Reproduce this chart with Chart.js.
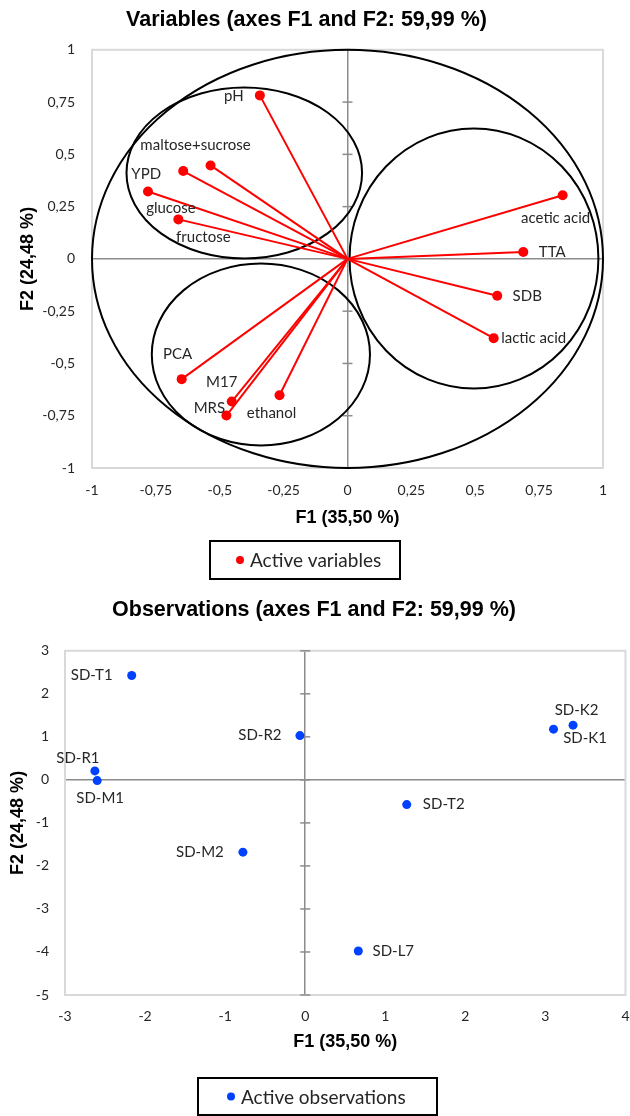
<!DOCTYPE html>
<html>
<head>
<meta charset="utf-8">
<script src="https://cdn.jsdelivr.net/npm/chart.js@4.4.1/dist/chart.umd.min.js"></script>
<style>
  body   { margin: 0; background: #fff; }
  canvas { display: block; }
</style>
</head>
<body>
<canvas id="var-chart" width="630" height="590"></canvas>
<canvas id="obs-chart" width="630" height="526"></canvas>
<script>
// ── DATA ───────────────────────────────────────
const varNames = ['pH', 'maltose+sucrose', 'YPD', 'glucose', 'fructose', 'acetic acid', 'TTA', 'SDB', 'lactic acid', 'PCA', 'M17', 'MRS', 'ethanol'];
const varF1    = [-0.343, -0.536, -0.643, -0.781, -0.662, 0.842, 0.688, 0.586, 0.572, -0.649, -0.453, -0.474, -0.266];
const varF2    = [ 0.782,  0.447,  0.420,  0.322,  0.189, 0.304, 0.033, -0.176, -0.379, -0.575, -0.682, -0.749, -0.652];

// correlation circle + the three hand-drawn group ellipses (data units)
const grpCx = [0, -0.404, 0.495, -0.339];
const grpCy = [0,  0.411, 0.002, -0.457];
const grpRx = [1,  0.461, 0.487,  0.427];
const grpRy = [1,  0.409, 0.622,  0.435];

const obsNames = ['SD-T1', 'SD-R2', 'SD-R1', 'SD-M1', 'SD-K2', 'SD-K1', 'SD-T2', 'SD-M2', 'SD-L7'];
const obsF1    = [-2.167, -0.066, -2.627, -2.598, 3.101, 3.345, 1.268, -0.778, 0.663];
const obsF2    = [ 2.426,  1.030,  0.209, -0.016, 1.179, 1.272, -0.574, -1.680, -3.977];

const varTicks  = [-1, -0.75, -0.5, -0.25, 0, 0.25, 0.5, 0.75, 1];
const obsXTicks = [-3, -2, -1, 0, 1, 2, 3, 4];
const obsYTicks = [-5, -4, -3, -2, -1, 0, 1, 2, 3];

// ── LABEL PLACEMENT (px from the point) ───────
const varLblOff = [[-26, 1], [-15, -20], [-37, 3], [23, 17], [25, 18], [-7, 23], [29, 0], [30, 0], [40, 0], [-4, -25], [-10, -19], [-17, -7], [-8, 18]];
const obsLblOff = [[-40, 0], [-40, 0], [-17, -13], [3, 18], [23, -19], [12, 13], [37, 0], [-43, 0], [35, 0]];

// ── STYLE ──────────────────────────────────────
const NARROW = "'Liberation Sans Narrow', 'Arial Narrow', 'Liberation Sans', sans-serif";
const BODY   = "Lato, 'Open Sans', sans-serif";
const TXT    = '#262626';
const AXIS   = '#8c8c8c';

const fmt = v => String(Math.round(v * 100) / 100).replace('.', ',');
const useTicks = list => s => { s.ticks = list.map(v => ({ value: v })); };

// ── PLUGINS ────────────────────────────────────
const plotFrame = {
  id: 'plotFrame',
  beforeDatasetsDraw(chart) {
    const { ctx, chartArea: a } = chart;
    ctx.save();
    ctx.strokeStyle = '#d9d9d9';
    ctx.lineWidth = 2;
    ctx.strokeRect(a.left, a.top, a.right - a.left, a.bottom - a.top);
    ctx.restore();
  }
};

const zeroTicks = {
  id: 'zeroTicks',
  beforeDatasetsDraw(chart) {
    const { ctx, scales: { x, y } } = chart;
    const x0 = x.getPixelForValue(0);
    ctx.save();
    ctx.strokeStyle = AXIS;
    ctx.lineWidth = 1.5;
    y.ticks.forEach(t => {
      const py = y.getPixelForValue(t.value);
      ctx.beginPath(); ctx.moveTo(x0 - 5, py); ctx.lineTo(x0 + 5, py); ctx.stroke();
    });
    ctx.restore();
  }
};

const ellipses = {
  id: 'ellipses',
  beforeDatasetsDraw(chart) {
    const { ctx, scales: { x, y } } = chart;
    ctx.save();
    ctx.strokeStyle = '#000';
    ctx.lineWidth = 2;
    grpCx.forEach((cx, i) => {
      const px = x.getPixelForValue(cx), py = y.getPixelForValue(grpCy[i]);
      const rx = Math.abs(x.getPixelForValue(cx + grpRx[i]) - px);
      const ry = Math.abs(y.getPixelForValue(grpCy[i] + grpRy[i]) - py);
      ctx.beginPath();
      ctx.ellipse(px, py, rx, ry, 0, 0, Math.PI * 2);
      ctx.stroke();
    });
    ctx.restore();
  }
};

function pointLabels(names, offs, font) {
  return {
    id: 'pointLabels',
    afterDatasetsDraw(chart) {
      const { ctx } = chart;
      ctx.save();
      ctx.font = font;
      ctx.fillStyle = TXT;
      ctx.textAlign = 'center';
      ctx.textBaseline = 'middle';
      chart.getDatasetMeta(0).data.forEach((pt, i) => {
        ctx.fillText(names[i], pt.x + offs[i][0], pt.y + offs[i][1]);
      });
      ctx.restore();
    }
  };
}

function boxLegend(box, dotX, text, color) {
  return {
    id: 'boxLegend',
    afterDraw(chart) {
      const { ctx } = chart;
      const [bx, by, bw, bh] = box, cy = by + bh / 2;
      ctx.save();
      ctx.strokeStyle = '#000';
      ctx.lineWidth = 2;
      ctx.strokeRect(bx, by, bw, bh);
      ctx.fillStyle = color;
      ctx.beginPath(); ctx.arc(dotX, cy, 4, 0, Math.PI * 2); ctx.fill();
      ctx.fillStyle = TXT;
      ctx.font = '19px ' + BODY;
      ctx.textBaseline = 'middle';
      ctx.fillText(text, dotX + 10, cy + 1);
      ctx.restore();
    }
  };
}

function scaleOpts(list, o) {
  return {
    type: 'linear',
    min: list[0], max: list[list.length - 1],
    afterBuildTicks: useTicks(list),
    afterFit: o.fit,
    border: { display: false },
    grid: {
      drawTicks: false,
      lineWidth: 1.5,
      color: c => (c.tick && c.tick.value === 0) ? AXIS : 'rgba(0,0,0,0)'
    },
    ticks: { autoSkip: false, maxRotation: 0, padding: o.pad, color: TXT, font: { family: BODY, size: 14 }, callback: fmt },
    title: { display: true, text: o.title, color: '#000', padding: o.tpad, font: { family: NARROW, size: 18, weight: 'bold' } }
  };
}

// ── VARIABLES CHART ────────────────────────────
const vecSets = varF1.map((v, i) => ({
  data: [{ x: 0, y: 0 }, { x: v, y: varF2[i] }],
  showLine: true, borderColor: '#ff0000', borderWidth: 2, pointRadius: 0
}));

new Chart(document.getElementById('var-chart'), {
  type: 'scatter',
  data: {
    datasets: [
      { data: varF1.map((v, i) => ({ x: v, y: varF2[i] })), backgroundColor: '#ff0000', borderWidth: 0, pointRadius: 5 },
      ...vecSets
    ]
  },
  options: {
    responsive: false,
    animation: false,
    layout: { padding: { left: 10, right: 27, top: 0, bottom: 58 } },
    plugins: {
      legend: { display: false },
      tooltip: { enabled: false },
      title: { display: true, text: 'Variables (axes F1 and F2: 59,99 %)', color: '#000', padding: { top: 7, bottom: 17 }, font: { family: NARROW, size: 21.5, weight: 'bold' } }
    },
    scales: {
      x: scaleOpts(varTicks, { pad: 14, title: 'F1 (35,50 %)', tpad: { top: 0, bottom: 3 }, fit: s => { s.height = 64; s.paddingLeft = 0; s.paddingRight = 0; } }),
      y: scaleOpts(varTicks, { pad: 17, title: 'F2 (24,48 %)', tpad: { top: 7, bottom: 0 }, fit: s => { s.width = 82; } })
    }
  },
  plugins: [plotFrame, zeroTicks, ellipses, pointLabels(varNames, varLblOff, '15px ' + BODY), boxLegend([210, 541, 190, 38], 240, 'Active variables', '#ff0000')]
});

// ── OBSERVATIONS CHART ─────────────────────────
new Chart(document.getElementById('obs-chart'), {
  type: 'scatter',
  data: {
    datasets: [
      { data: obsF1.map((v, i) => ({ x: v, y: obsF2[i] })), backgroundColor: '#0040ff', borderWidth: 0, pointRadius: 4.5 }
    ]
  },
  options: {
    responsive: false,
    animation: false,
    layout: { padding: { left: 0, right: 2, top: 0, bottom: 61 } },
    plugins: {
      legend: { display: false },
      tooltip: { enabled: false },
      title: { display: true, text: 'Observations (axes F1 and F2: 59,99 %)', color: '#000', padding: { top: 7, bottom: 28 }, font: { family: NARROW, size: 21.5, weight: 'bold' } }
    },
    scales: {
      x: scaleOpts(obsXTicks, { pad: 13, title: 'F1 (35,50 %)', tpad: { top: 0, bottom: 2 }, fit: s => { s.height = 60; s.paddingLeft = 0; s.paddingRight = 0; } }),
      y: scaleOpts(obsYTicks, { pad: 16, title: 'F2 (24,48 %)', tpad: { top: 7, bottom: 0 }, fit: s => { s.width = 65; } })
    }
  },
  plugins: [plotFrame, zeroTicks, pointLabels(obsNames, obsLblOff, '15px ' + BODY), boxLegend([198, 488, 239, 37], 231, 'Active observations', '#0040ff')]
});
</script>
</body>
</html>
